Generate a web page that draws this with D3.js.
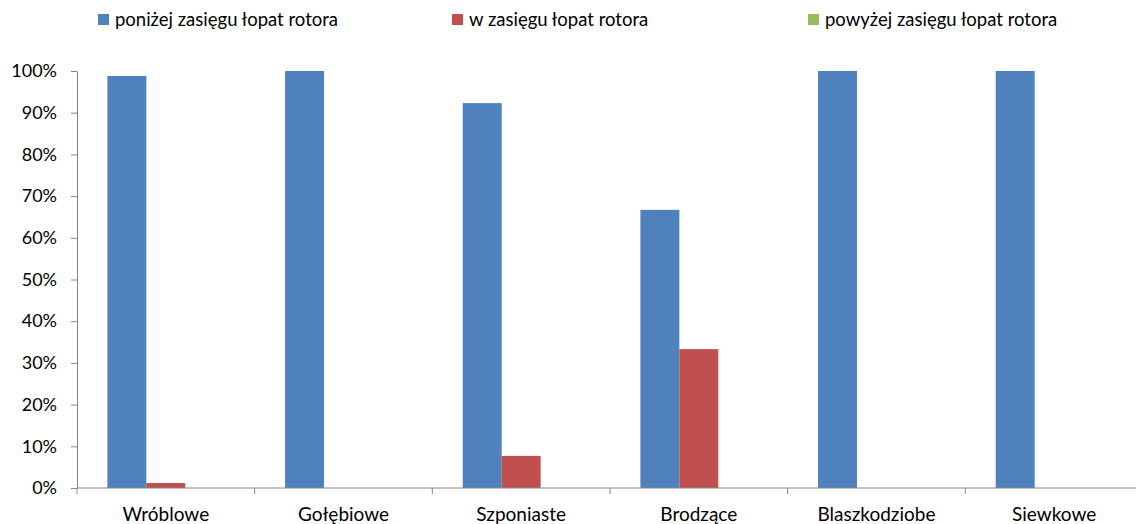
<!DOCTYPE html>
<html>
<head>
<meta charset="utf-8">
<script src="https://cdn.jsdelivr.net/npm/d3@7"></script>
<style>
  html, body { margin: 0; padding: 0; background: #fff; }
  svg { display: block; font-family: Lato, "Open Sans", sans-serif; }
</style>
</head>
<body>
<svg id="chart" width="1136" height="524"></svg>
<script>
// Bird groups and the share of flights at each height relative to the rotor
const categories = ["Wróblowe", "Gołębiowe", "Szponiaste", "Brodzące", "Blaszkodziobe", "Siewkowe"];
const seriesNames = ["poniżej zasięgu łopat rotora", "w zasięgu łopat rotora", "powyżej zasięgu łopat rotora"];
const below = [98.8, 100, 92.3, 66.7, 100, 100];
const within = [1.2, 0, 7.7, 33.3, 0, 0];
const above = [0, 0, 0, 0, 0, 0];
const colors = ["#4f81bd", "#c0504d", "#9bbb59"];
const yTicks = [0, 10, 20, 30, 40, 50, 60, 70, 80, 90, 100];

const series = [below, within, above];
const svg = d3.select("#chart");

const plot = { left: 77, right: 1143, top: 71, bottom: 488 };

const x = d3.scaleBand().domain(categories).range([plot.left, plot.right]).padding(0);
const xs = d3.scaleBand().domain(d3.range(series.length)).range([0, x.bandwidth()])
  .paddingInner(0).paddingOuter(0.78);
const y = d3.scaleLinear().domain([0, 100]).range([plot.bottom, plot.top]);

// Bars
const groups = svg.append("g").selectAll("g")
  .data(categories).join("g")
  .attr("transform", d => `translate(${x(d)},0)`);

groups.selectAll("rect")
  .data((c, i) => series.map((s, k) => ({ k, v: s[i] })))
  .join("rect")
  .attr("x", d => xs(d.k))
  .attr("width", xs.bandwidth())
  .attr("y", d => y(d.v))
  .attr("height", d => y(0) - y(d.v))
  .attr("fill", d => colors[d.k]);

// Y axis
const yAxis = svg.append("g")
  .attr("transform", `translate(${plot.left},0)`)
  .call(d3.axisLeft(y).tickValues(yTicks).tickFormat(d => d + "%").tickSize(6).tickSizeOuter(0));
yAxis.select(".domain").attr("stroke", "#868686");
yAxis.selectAll(".tick line").attr("stroke", "#868686");
yAxis.selectAll(".tick text")
  .attr("x", -20)
  .attr("fill", "#000")
  .style("font-family", "Lato, sans-serif")
  .style("font-size", "18px");

// X axis with ticks between categories
const xAxis = svg.append("g").attr("transform", `translate(0,${plot.bottom})`);
xAxis.append("line")
  .attr("x1", plot.left).attr("x2", plot.right)
  .attr("stroke", "#868686");
const boundaries = categories.map(c => x(c)).concat([x(categories[categories.length - 1]) + x.bandwidth()]);
xAxis.selectAll("line.tk").data(boundaries).join("line")
  .attr("class", "tk")
  .attr("x1", d => d).attr("x2", d => d)
  .attr("y1", 0).attr("y2", 6)
  .attr("stroke", "#868686");
xAxis.selectAll("text").data(categories).join("text")
  .attr("x", d => x(d) + x.bandwidth() / 2)
  .attr("y", 33)
  .attr("text-anchor", "middle")
  .attr("fill", "#000")
  .style("font-size", "19px")
  .text(d => d);

// Legend
const legendX = [98, 452, 808];
const legend = svg.append("g").selectAll("g")
  .data(seriesNames).join("g")
  .attr("transform", (d, i) => `translate(${legendX[i]},14)`);
legend.append("rect").attr("width", 11).attr("height", 11).attr("fill", (d, i) => colors[i]);
legend.append("text")
  .attr("x", 17).attr("y", 12)
  .attr("fill", "#000")
  .style("font-size", "18.5px")
  .text(d => d);
</script>
</body>
</html>
